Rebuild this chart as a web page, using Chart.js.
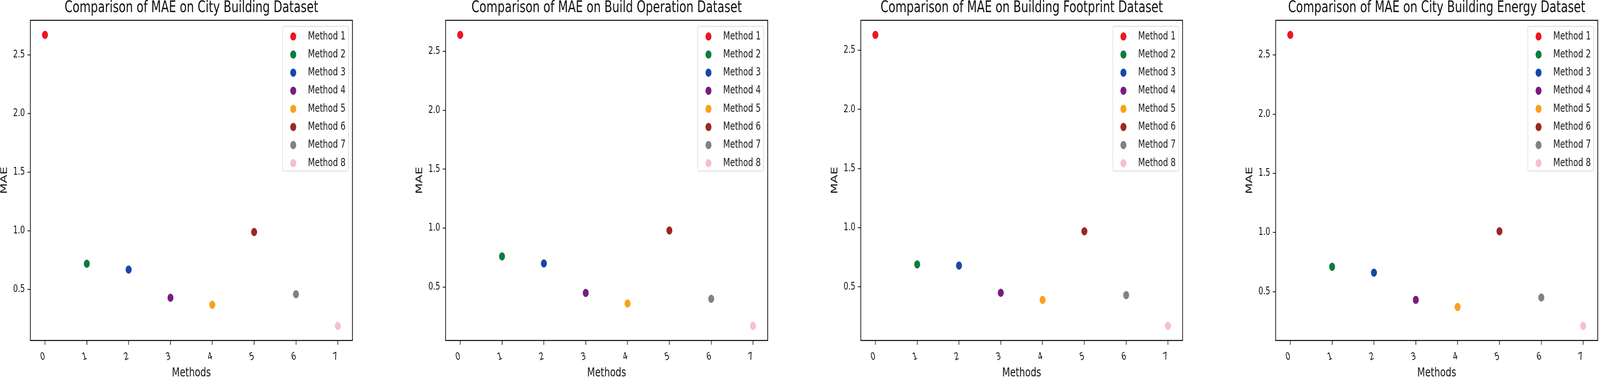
<!DOCTYPE html>
<html>
<head>
<meta charset="utf-8">
<script src="https://cdn.jsdelivr.net/npm/chart.js@4.4.1/dist/chart.umd.min.js"></script>
<style>
html, body { margin:0; padding:0; background:#ffffff; overflow:hidden; }
#wrap { position:relative; left:0; top:0; height:967px; overflow:hidden; }
canvas.cell { position:absolute; top:0; display:block; }
</style>
</head>
<body>
<div id="wrap"></div>
<script>
// ---- data ----
const methodLabels = ['Method 1','Method 2','Method 3','Method 4','Method 5','Method 6','Method 7','Method 8'];
const xTickLabels = ['0','1','2','3','4','5','6','7'];
const methodColors = ['#ee1620','#0b7d3a','#1a47a6','#7b1a80','#f9a11b','#9e2626','#828282','#f7bfca'];
const datasetTitles = [
  'Comparison of MAE on City Building Dataset',
  'Comparison of MAE on Build Operation Dataset',
  'Comparison of MAE on Building Footprint Dataset',
  'Comparison of MAE on City Building Energy Dataset'
];
const maeCityBuilding       = [2.67, 0.72, 0.67, 0.43, 0.37, 0.99, 0.46, 0.19];
const maeBuildOperation     = [2.64, 0.76, 0.70, 0.45, 0.36, 0.98, 0.40, 0.17];
const maeBuildingFootprint  = [2.63, 0.69, 0.68, 0.45, 0.39, 0.97, 0.43, 0.17];
const maeCityBuildingEnergy = [2.67, 0.71, 0.66, 0.43, 0.37, 1.01, 0.45, 0.21];
const yTickStep = 0.5;
const xAxisLabel = 'Methods';
const yAxisLabel = 'MAE';

const allSeries = [maeCityBuilding, maeBuildOperation, maeBuildingFootprint, maeCityBuildingEnergy];

// ---- layout ----
const FIG_W = 4486, FIG_H = 967;
const VIEW_W = Math.min(window.innerWidth || FIG_W, FIG_W);
const FIT = VIEW_W / FIG_W;     // fit the figure to the available width
const SQUISH = 0.8;             // horizontal compression of the picture
const CELL_FIG = 1164;          // one panel slot, in figure pixels
const CELL_W = CELL_FIG / SQUISH, CELL_H = FIG_H;   // drawing units
const Y_AXIS_W = 106.25;
const RIGHT_PAD = 113.75;
const X_AXIS_H = 96;
const FONT = '"DejaVu Sans", sans-serif';

const wrap = document.getElementById('wrap');
wrap.style.width = VIEW_W + 'px';

const framePlugin = {
  id: 'frame',
  afterDraw(chart) {
    const { ctx, chartArea: a } = chart;
    ctx.save();
    ctx.strokeStyle = '#000';
    ctx.lineWidth = 2.5;
    ctx.strokeRect(a.left, a.top, a.right - a.left, a.bottom - a.top);
    ctx.restore();
  }
};

const boxLegendPlugin = {
  id: 'boxLegend',
  afterDraw(chart, args, o) {
    const { ctx, chartArea: a } = chart;
    const ds = chart.data.datasets;
    const left = a.right - o.marginRight - o.width;
    const top = a.top + o.marginTop;
    const h = o.padTop + o.rowHeight * (ds.length - 1) + o.padBottom;
    ctx.save();
    ctx.beginPath();
    if (ctx.roundRect) ctx.roundRect(left, top, o.width, h, 5); else ctx.rect(left, top, o.width, h);
    ctx.fillStyle = 'rgba(255,255,255,0.85)';
    ctx.fill();
    ctx.strokeStyle = '#d9d9d9';
    ctx.lineWidth = 2;
    ctx.stroke();
    ds.forEach((d, i) => {
      const cy = top + o.padTop + i * o.rowHeight;
      ctx.beginPath();
      ctx.arc(left + o.markerX, cy, o.radius, 0, Math.PI * 2);
      ctx.fillStyle = d.backgroundColor;
      ctx.fill();
      ctx.fillStyle = '#1a1a1a';
      ctx.font = '28px ' + FONT;
      ctx.textBaseline = 'middle';
      ctx.textAlign = 'left';
      ctx.fillText(d.label, left + o.textX, cy);
    });
    ctx.restore();
  }
};

allSeries.forEach((series, k) => {
  const canvas = document.createElement('canvas');
  canvas.className = 'cell';
  canvas.width = Math.round(CELL_W);
  canvas.height = CELL_H;
  canvas.style.left = (CELL_FIG * k * FIT) + 'px';
  canvas.style.width = (CELL_FIG * FIT) + 'px';
  canvas.style.height = CELL_H + 'px';
  wrap.appendChild(canvas);

  const lo = Math.min(...series), hi = Math.max(...series);
  const margin = (hi - lo) * 0.05;
  const xMargin = (series.length - 1) * 0.05;

  const datasets = series.map((v, i) => ({
    label: methodLabels[i],
    data: [{ x: i, y: v }],
    backgroundColor: methodColors[i],
    borderColor: methodColors[i],
    pointRadius: 10,
    pointBorderWidth: 1,
    pointHoverRadius: 10
  }));

  new Chart(canvas, {
    type: 'scatter',
    data: { datasets },
    plugins: [framePlugin, boxLegendPlugin],
    options: {
      responsive: false,
      devicePixelRatio: 1,
      animation: false,
      events: [],
      layout: { autoPadding: false, padding: { left: 0, right: RIGHT_PAD, top: 0, bottom: 0 } },
      plugins: {
        legend: { display: false },
        tooltip: { enabled: false },
        title: {
          display: true,
          text: datasetTitles[k],
          color: '#111',
          font: { family: FONT, size: 40, weight: 'normal', lineHeight: 1.05 },
          padding: { top: 0, bottom: 52 - 40 * 1.05 }
        },
        boxLegend: {
          width: 231, marginRight: 14, marginTop: 15.3,
          padTop: 26, rowHeight: 46.3, padBottom: 20,
          markerX: 37.5, textX: 89, radius: 10.5
        }
      },
      scales: {
        x: {
          type: 'linear',
          position: 'bottom',
          min: -xMargin,
          max: series.length - 1 + xMargin,
          afterFit: (s) => { s.height = X_AXIS_H; },
          border: { display: false },
          grid: { display: true, drawOnChartArea: false, drawTicks: true, tickLength: 11, tickColor: '#000', tickWidth: 2 },
          ticks: {
            stepSize: 1,
            includeBounds: false,
            autoSkip: false,
            minRotation: 18,
            maxRotation: 18,
            padding: 14,
            color: '#111',
            font: { family: FONT, size: 26 },
            callback: (v) => xTickLabels[v] !== undefined ? xTickLabels[v] : ''
          },
          title: {
            display: true,
            text: xAxisLabel,
            color: '#111',
            font: { family: FONT, size: 32, lineHeight: 0.75 },
            padding: 0
          }
        },
        y: {
          type: 'linear',
          position: 'left',
          min: lo - margin,
          max: hi + margin,
          afterFit: (s) => { s.width = Y_AXIS_W; },
          border: { display: false },
          grid: { display: true, drawOnChartArea: false, drawTicks: true, tickLength: 10, tickColor: '#000', tickWidth: 2 },
          ticks: {
            stepSize: yTickStep,
            includeBounds: false,
            padding: 9,
            color: '#111',
            font: { family: FONT, size: 26 },
            callback: (v) => Number(v).toFixed(1)
          },
          title: {
            display: true,
            text: yAxisLabel,
            color: '#111',
            font: { family: FONT, size: 32, lineHeight: 1 },
            padding: 0
          }
        },
        yPad: {
          type: 'linear',
          position: 'right',
          display: true,
          afterFit: (s) => { s.width = Y_AXIS_W; },
          border: { display: false },
          grid: { display: false },
          ticks: { display: false }
        }
      }
    }
  });
});
</script>
</body>
</html>
